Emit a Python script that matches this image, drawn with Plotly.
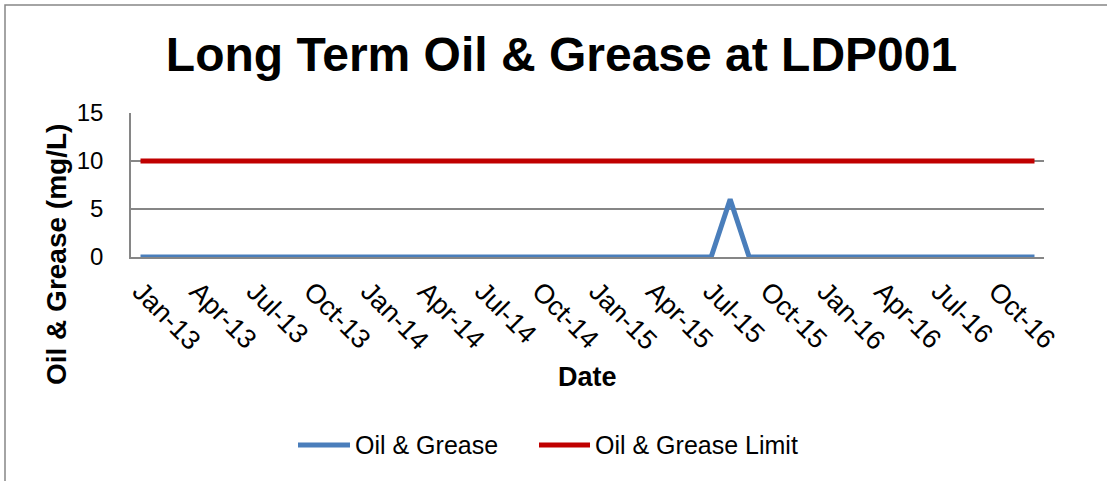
import plotly.graph_objects as go

# ---- data ----
month_names = ["Jan", "Feb", "Mar", "Apr", "May", "Jun", "Jul", "Aug", "Sep", "Oct", "Nov", "Dec"]
years = ["13", "14", "15", "16"]
months = [f"{m}-{y}" for y in years for m in month_names]  # Jan-13 .. Dec-16

oil_grease = [0] * 48
oil_grease[months.index("Aug-15")] = 6
oil_grease_limit = [10] * 48

series_names = ["Oil & Grease", "Oil & Grease Limit"]
series_colors = ["#4A7EBB", "#C00000"]

tick_labels = [m for m in months if m.split("-")[0] in ("Jan", "Apr", "Jul", "Oct")]
y_ticks = [0, 5, 10, 15]

# ---- layout geometry (pixels) ----
W, H = 1107, 481
L, R, T, B = 131, 1044, 113, 257
PW, PH = R - L, B - T


def px(x):
    return (x - L) / PW


def py(y):
    return (B - y) / PH


FONT = "Liberation Sans, Arial, sans-serif"
GRID = "#868686"

fig = go.Figure()
for vals, name, color in zip([oil_grease, oil_grease_limit], series_names, series_colors):
    fig.add_trace(go.Scatter(
        x=months, y=vals, mode="lines", name=name,
        line=dict(color=color, width=5),
    ))

# legend drawn as line samples + text (Excel-style long samples)
legend_y = 445
legend_items = [(298, 350, 353), (539, 590, 593)]  # line start, line end, text start
shapes = [
    dict(type="rect", xref="paper", yref="paper",
         x0=px(5), x1=px(1140), y0=py(5), y1=py(510),
         line=dict(color=GRID, width=1.5), fillcolor="rgba(0,0,0,0)", layer="below"),
]
annotations = [
    dict(text="<b>Oil & Grease (mg/L)</b>", xref="paper", yref="paper",
         x=px(56), y=py(255), textangle=-90, showarrow=False,
         xanchor="center", yanchor="middle",
         font=dict(family=FONT, size=28, color="black")),
    dict(text="<b>Date</b>", xref="paper", yref="paper",
         x=px(587.5), y=py(377), showarrow=False,
         xanchor="center", yanchor="middle",
         font=dict(family=FONT, size=27, color="black")),
]
for (x0, x1, xt), name, color in zip(legend_items, series_names, series_colors):
    shapes.append(dict(type="line", xref="paper", yref="paper",
                       x0=px(x0), x1=px(x1), y0=py(legend_y), y1=py(legend_y),
                       line=dict(color=color, width=5)))
    annotations.append(dict(text=name, xref="paper", yref="paper",
                            x=px(xt), y=py(legend_y), showarrow=False,
                            xanchor="left", yanchor="middle",
                            font=dict(family=FONT, size=25, color="black")))

fig.update_layout(
    width=W, height=H,
    margin=dict(l=L, r=W - R, t=T, b=H - B, pad=0),
    paper_bgcolor="white", plot_bgcolor="white",
    font=dict(family=FONT, size=24, color="black"),
    title=dict(
        text="<b>Long Term Oil & Grease at LDP001</b>",
        font=dict(family=FONT, size=48, color="black"),
        xref="container", yref="container",
        x=561.5 / W, y=1 - 54 / H, xanchor="center", yanchor="middle",
    ),
    showlegend=False,
    xaxis=dict(
        type="category", categoryorder="array", categoryarray=months,
        range=[-0.5, 47.5],
        tickmode="array", tickvals=tick_labels, ticktext=tick_labels,
        tickangle=45, tickfont=dict(family=FONT, size=27, color="black"),
        showgrid=False, zeroline=False,
        showline=True, linecolor=GRID, linewidth=1.5,
        ticks="", ticklabelstandoff=6,
    ),
    yaxis=dict(
        range=[0, 15], tickvals=y_ticks,
        tickfont=dict(family=FONT, size=24, color="black"),
        showgrid=True, gridcolor=GRID, gridwidth=1.5,
        zeroline=False, showline=True, linecolor=GRID, linewidth=1.5,
        ticks="", ticklabelstandoff=21,
    ),
    shapes=shapes,
    annotations=annotations,
)

fig.write_html("out.html", config={"displayModeBar": False},
               post_script="document.body.style.margin='0';")
